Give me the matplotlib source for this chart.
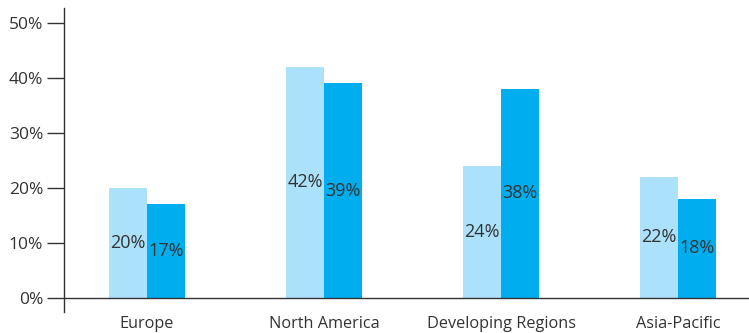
import matplotlib.pyplot as plt
import numpy as np

plt.rcParams['font.family'] = ['Open Sans', 'DejaVu Sans']

# datos
regiones = ['Europe', 'North America', 'Developing Regions', 'Asia-Pacific']
serie_a = [20, 42, 24, 22]
serie_b = [17, 39, 38, 18]

color_a = '#abe1fa'
color_b = '#00aeef'
gris = '#333333'

fig = plt.figure(figsize=(7.49, 3.33), dpi=100)
ax = fig.add_axes([64 / 749, 21 / 333, 1 - 64 / 749, 304 / 333])

x = np.arange(len(regiones))
ancho = 0.215

barras_a = ax.bar(x - ancho / 2, serie_a, ancho, color=color_a)
barras_b = ax.bar(x + ancho / 2, serie_b, ancho, color=color_b)

# etiquetas dentro de las barras, a media altura
for barras, vals in [(barras_a, serie_a), (barras_b, serie_b)]:
    for b, v in zip(barras, vals):
        ax.text(b.get_x() + b.get_width() / 2, v / 2, f'{v}%',
                ha='center', va='center', fontsize=13, color=gris)

ax.set_xlim(-0.469, 3.40)
ax.set_ylim(-2.55, 52.7)
ax.axhline(0, color=gris, lw=1)

ax.set_yticks([0, 10, 20, 30, 40, 50])
ax.set_yticklabels([f'{t}%' for t in [0, 10, 20, 30, 40, 50]])
ax.tick_params(axis='y', length=12, width=1, color=gris, labelcolor=gris,
               labelsize=12.5, pad=3)

ax.set_xticks([])
for i, r in enumerate(regiones):
    ax.text(x[i], -4.8, r, ha='center', va='center', fontsize=11.7,
            color=gris, clip_on=False)

for s in ['top', 'right', 'bottom']:
    ax.spines[s].set_visible(False)
ax.spines['left'].set_color(gris)
ax.spines['left'].set_linewidth(1)

fig.savefig('out.png', dpi=100)
